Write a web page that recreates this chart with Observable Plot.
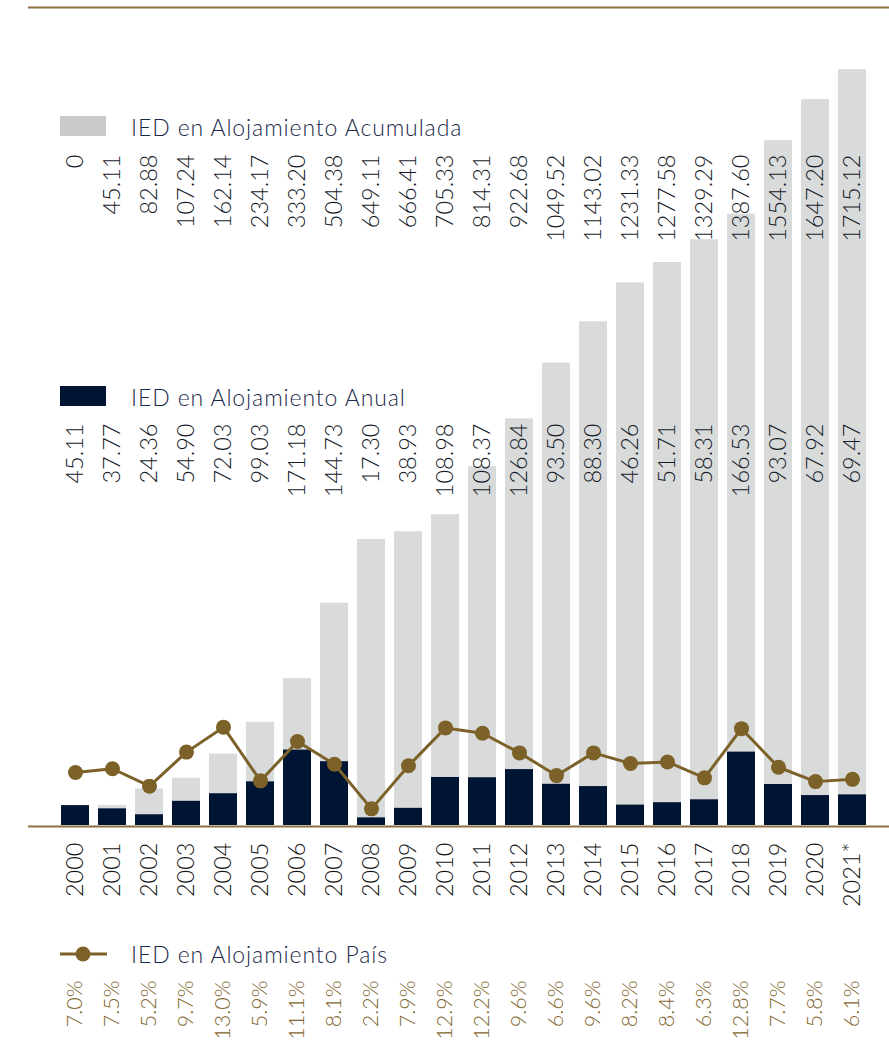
<!DOCTYPE html>
<html><head><meta charset="utf-8">
<script src="https://cdn.jsdelivr.net/npm/d3@7"></script>
<script src="https://cdn.jsdelivr.net/npm/@observablehq/plot@0.6"></script>
<style>
html,body{margin:0;padding:0;background:#fff;}
#wrap{position:relative;width:889px;height:1042px;font-family:Lato,sans-serif;font-weight:300;overflow:hidden;}
#wrap svg{position:absolute;left:0;top:0;background:transparent;}
.sw{position:absolute;left:60px;width:46px;height:20px;}
.lt{position:absolute;left:131px;font-size:23px;line-height:23px;letter-spacing:0.9px;color:#1b2a4a;white-space:nowrap;}
</style></head><body><div id="wrap"></div>
<script>
const years = ["2000","2001","2002","2003","2004","2005","2006","2007","2008","2009","2010","2011","2012","2013","2014","2015","2016","2017","2018","2019","2020","2021*"];
const acumulada = [0,45.11,82.88,107.24,162.14,234.17,333.20,504.38,649.11,666.41,705.33,814.31,922.68,1049.52,1143.02,1231.33,1277.58,1329.29,1387.60,1554.13,1647.20,1715.12];
const anual = [45.11,37.77,24.36,54.90,72.03,99.03,171.18,144.73,17.30,38.93,108.98,108.37,126.84,93.50,88.30,46.26,51.71,58.31,166.53,93.07,67.92,69.47];
const pais = [7.0,7.5,5.2,9.7,13.0,5.9,11.1,8.1,2.2,7.9,12.9,12.2,9.6,6.6,9.6,8.2,8.4,6.3,12.8,7.7,5.8,6.1];
const legendLabels = ["IED en Alojamiento Acumulada","IED en Alojamiento Anual","IED en Alojamiento País"];

const data = years.map((y,i)=>({year:y, acum:acumulada[i], anual:anual[i], pct:pais[i]}));

const GOLD = "#7c6129", RULE = "#8b7140", NAVY = "#001433", GRAY = "#d9dbdb", LBL = "#151a28", PCT = "#7f672f";
const FS = 23.5;
const common = {
  width: 889, height: 1042,
  marginTop: 8, marginBottom: 217, marginLeft: 28, marginRight: 0,
  x: {type: "band", domain: years, range: [59, 867], paddingInner: 0.25, paddingOuter: 0, axis: null},
  style: {fontFamily: "Lato, sans-serif", fontWeight: 300, background: "transparent", overflow: "visible"}
};
const yMax = 1854;

const bars = Plot.plot({
  ...common,
  y: {domain: [0, yMax], axis: null},
  marks: [
    Plot.barY(data, {x: "year", y: "acum", fill: GRAY}),
    Plot.barY(data, {x: "year", y: "anual", fill: NAVY}),
    Plot.ruleY([0], {stroke: RULE, strokeWidth: 2, dy: 1}),
    Plot.ruleY([yMax], {stroke: RULE, strokeWidth: 2, dy: -1}),
    Plot.text(data, {x: "year", text: d => d.acum === 0 ? "0" : d.acum.toFixed(2), frameAnchor: "top", dy: 146, rotate: -90, textAnchor: "end", lineAnchor: "middle", fontSize: FS, fill: LBL}),
    Plot.text(data, {x: "year", text: d => d.anual.toFixed(2), frameAnchor: "top", dy: 415, rotate: -90, textAnchor: "end", lineAnchor: "middle", fontSize: FS, fill: LBL}),
    Plot.text(data, {x: "year", text: "year", frameAnchor: "bottom", dy: 17, rotate: -90, textAnchor: "end", lineAnchor: "middle", fontSize: FS, fill: "#141414"}),
    Plot.text(data, {x: "year", text: d => d.pct.toFixed(1) + "%", frameAnchor: "bottom", dy: 155, rotate: -90, textAnchor: "end", lineAnchor: "middle", fontSize: 21.5, fill: PCT})
  ]
});

const line = Plot.plot({
  ...common,
  y: {domain: [0, 108], axis: null},
  marks: [
    Plot.line(data, {x: "year", y: "pct", stroke: GOLD, strokeWidth: 3}),
    Plot.dot(data, {x: "year", y: "pct", r: 7.5, fill: GOLD})
  ]
});

const wrap = document.getElementById("wrap");
wrap.appendChild(bars);
wrap.appendChild(line);

function add(html){ const d = document.createElement("div"); d.innerHTML = html; while (d.firstChild) wrap.appendChild(d.firstChild); }
add(`<div class="sw" style="top:116px;background:#c8c9c9"></div><div class="lt" style="top:116px">${legendLabels[0]}</div>`);
add(`<div class="sw" style="top:386px;background:${NAVY}"></div><div class="lt" style="top:386px">${legendLabels[1]}</div>`);
add(`<svg width="60" height="20" style="left:58px;top:944px;position:absolute"><line x1="2" x2="49" y1="10" y2="10" stroke="${GOLD}" stroke-width="3"/><circle cx="25" cy="10" r="7.5" fill="${GOLD}"/></svg><div class="lt" style="top:943px">${legendLabels[2]}</div>`);
</script>
</body></html>
